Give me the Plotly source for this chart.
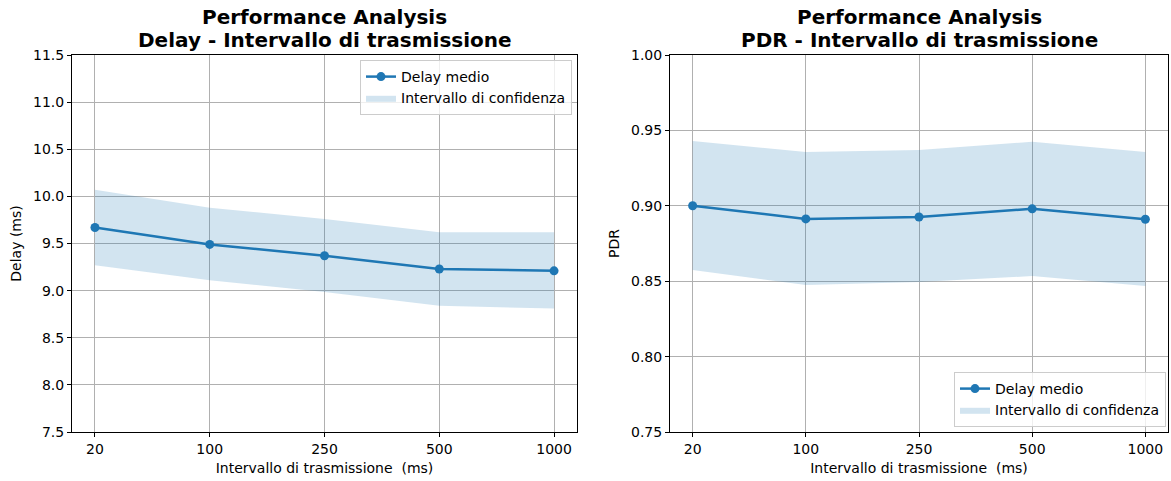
import plotly.graph_objects as go

intervals = ["20", "100", "250", "500", "1000"]
delay_mean = [9.67, 9.49, 9.37, 9.23, 9.21]
delay_upper = [10.07, 9.88, 9.76, 9.62, 9.62]
delay_lower = [9.27, 9.11, 8.985, 8.84, 8.81]
pdr_mean = [0.900, 0.8913, 0.8926, 0.898, 0.8911]
pdr_upper = [0.943, 0.9357, 0.9370, 0.9425, 0.9357]
pdr_lower = [0.8574, 0.8475, 0.8495, 0.8534, 0.8468]

W, H = 1171, 481
BLUE = "#1f77b4"
BAND = "rgba(31,119,180,0.2)"
FONT = "DejaVu Sans"
xs = list(range(len(intervals)))

fig = go.Figure()

def add_panel(xa, ya, mean, up, lo, legend):
    fig.add_trace(go.Scatter(
        x=xs, y=mean, mode="lines+markers", name="Delay medio",
        line=dict(color=BLUE, width=2.5), marker=dict(color=BLUE, size=9),
        xaxis=xa, yaxis=ya, legend=legend))
    fig.add_trace(go.Scatter(
        x=xs + xs[::-1], y=up + lo[::-1], mode="lines", fill="toself",
        fillcolor=BAND, line=dict(width=0, color=BAND),
        name="Intervallo di confidenza", xaxis=xa, yaxis=ya, legend=legend))

add_panel("x", "y", delay_mean, delay_upper, delay_lower, "legend")
add_panel("x2", "y2", pdr_mean, pdr_upper, pdr_lower, "legend2")

ytop = 1 - 55 / H
ybot = 1 - 432 / H
axis_common = dict(
    showline=True, linecolor="black", linewidth=1, mirror=True,
    ticks="outside", ticklen=4, tickcolor="black", automargin=False,
    showgrid=True, gridcolor="#b0b0b0", gridwidth=1, zeroline=False,
    tickfont=dict(family=FONT, size=14, color="black"),
)
xcommon = dict(axis_common, tickmode="array", tickvals=xs, ticktext=intervals,
               range=[-0.2, 4.2],
               title=dict(text="Intervallo di trasmissione  (ms)",
                          font=dict(family=FONT, size=14, color="black"), standoff=7))

fig.update_layout(
    width=W, height=H, margin=dict(l=0, r=0, t=0, b=0, autoexpand=False),
    paper_bgcolor="white", plot_bgcolor="white",
    font=dict(family=FONT, size=14, color="black"),
    xaxis=dict(xcommon, domain=[72 / W, 577 / W], anchor="y"),
    xaxis2=dict(xcommon, domain=[670 / W, 1168 / W], anchor="y2"),
    yaxis=dict(axis_common, domain=[ybot, ytop], anchor="x", range=[7.5, 11.5],
               dtick=0.5, tick0=7.5, tickformat=".1f",
               title=dict(text="Delay (ms)", font=dict(family=FONT, size=14), standoff=8)),
    yaxis2=dict(axis_common, domain=[ybot, ytop], anchor="x2", range=[0.75, 1.0],
                dtick=0.05, tick0=0.75, tickformat=".2f",
                title=dict(text="PDR", font=dict(family=FONT, size=14), standoff=8)),
    legend=dict(x=572 / W, y=1 - 60 / H, xanchor="right", yanchor="top",
                bgcolor="rgba(255,255,255,0.8)", bordercolor="#cccccc", borderwidth=1,
                font=dict(family=FONT, size=14), itemwidth=30),
    legend2=dict(x=1166 / W, y=1 - 427 / H, xanchor="right", yanchor="bottom",
                 bgcolor="rgba(255,255,255,0.8)", bordercolor="#cccccc", borderwidth=1,
                 font=dict(family=FONT, size=14), itemwidth=30),
)

for cx, line2 in [((72 + 577) / 2, "Delay - Intervallo di trasmissione"),
                  ((670 + 1168) / 2, "PDR - Intervallo di trasmissione")]:
    for yc, txt in [(17, "Performance Analysis"), (40, line2)]:
        fig.add_annotation(x=cx / W, y=1 - yc / H, xref="paper", yref="paper",
                           xanchor="center", yanchor="middle", showarrow=False,
                           text="<b>" + txt + "</b>",
                           font=dict(family=FONT, size=20, color="black"))

fig.write_html("out.html")
